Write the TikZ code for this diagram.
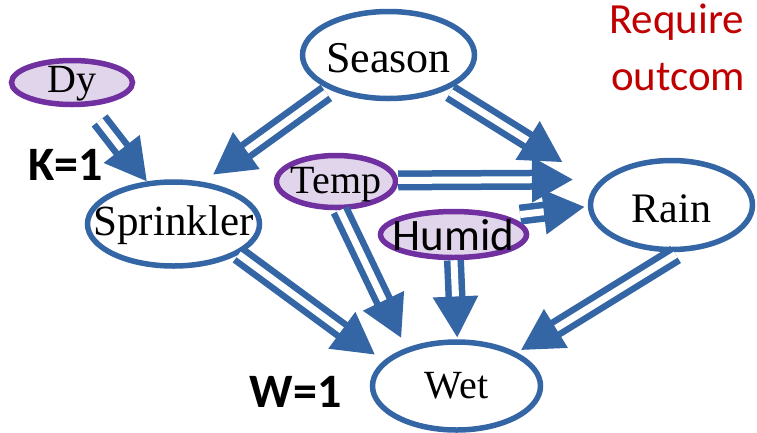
\documentclass[tikz,border=0pt]{standalone}
\usepackage{fontspec}
\setmainfont{Liberation Serif}
\newfontfamily\calibri{Carlito}
\usetikzlibrary{arrows.meta,shapes.geometric}
\definecolor{linkblue}{RGB}{52,101,164}
\definecolor{evpurple}{RGB}{112,48,160}
\definecolor{evfill}{RGB}{225,213,235}
\definecolor{notered}{RGB}{192,0,0}
\newcommand\fsz[1]{\fontsize{#1}{#1}\selectfont}
\newcommand\lbl[1]{\makebox[0pt]{#1}}

\begin{document}
\begin{tikzpicture}[x=1pt,y=-1pt,
  var/.style={ellipse, draw=linkblue, line width=5.5pt, fill=white, inner sep=0pt, text depth=0pt},
  evid/.style={var, draw=evpurple, fill=evfill},
  link/.style={draw=linkblue, line width=6.5pt, double=white, double distance=7pt,
    -{Triangle[length=41pt, width=44pt]}},
  tag/.style={font=\calibri\bfseries\fsz{48}, anchor=base west, inner sep=0pt},
  note/.style={font=\calibri\fsz{43}, text=notered, anchor=base west, inner sep=0pt}
]
\useasboundingbox (0,0) rectangle (757,432);

% variables of the network (text height places the baseline inside each ellipse)
\node[var, minimum width=172pt, minimum height=87pt, font=\fsz{44}, text height=34pt] (Season) at (388.5,55) {\lbl{Season}};
\node[evid, minimum width=121pt, minimum height=44pt, font=\fsz{40}, text height=19pt] (Dy) at (72,82.5) {\lbl{Dy}};
\node[var, minimum width=172pt, minimum height=84pt, font=\fsz{43}, text height=22pt] (Sprinkler) at (173.5,224) {\lbl{Sprinkler}};
\node[evid, minimum width=119pt, minimum height=52pt, font=\fsz{40}, text height=23pt] (Temp) at (336,181.5) {\lbl{Temp}};
\node[evid, minimum width=146pt, minimum height=46pt, font=\calibri\fsz{45}, text height=31pt] (Humid) at (453.5,234.5) {\lbl{Humid}};
\node[var, minimum width=162pt, minimum height=89pt, font=\fsz{42}, text height=34pt] (Rain) at (671.5,205) {\lbl{Rain}};
\node[var, minimum width=168pt, minimum height=88pt, font=\fsz{40}, text height=24pt] (Wet) at (456.5,386) {\lbl{Wet}};

% dependencies
\draw[link, shorten <=17.8pt] (Dy.305) -- (Sprinkler.122);
\draw[link, shorten <=5pt, shorten >=12.4pt] (Season.211) -- (Sprinkler.55);
\draw[link, shorten <=4.5pt, shorten >=40.6pt] (Season.329) -- (Rain.164);
\draw[link, shorten >=28.2pt] (Temp.1) -- (Rain.160);
\draw[link, shorten <=13.4pt, shorten >=3.3pt] (Humid.19) -- (Rain.181);
\draw[link, shorten >=11.3pt] (Temp.278) -- (Wet.143);
\draw[link, shorten >=10.6pt] (Sprinkler.335) -- (Wet.161);
\draw[link, shorten >=1.8pt] (Humid.271) -- (Wet.89);
\draw[link, shorten <=4.8pt, shorten >=4.8pt] (Rain.280) -- (Wet.29);

% evidence values
\node[tag] (K) at (28,180) {K=1};
\node[tag] (W) at (249.5,407) {W=1};

% side note
\node[note] (req) at (609,33) {Require};
\node[note] (out) at (611,90) {outcom};
\end{tikzpicture}
\end{document}
